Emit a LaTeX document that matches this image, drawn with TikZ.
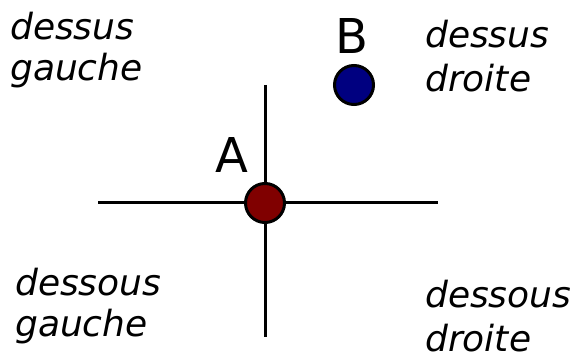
\documentclass[tikz,border=0pt]{standalone}
\usepackage{fontspec}
\setmainfont{DejaVu Sans}
\usepackage{tikz}
\usetikzlibrary{positioning}
\definecolor{pointA}{RGB}{128,0,0}
\definecolor{pointB}{RGB}{0,0,128}
\tikzstyle{axis} = [line width=3pt, draw=black]
\tikzstyle{point} = [circle, minimum size=39pt, inner sep=0pt, line width=3pt, draw=black]
\tikzstyle{zone} = [anchor=north west, inner sep=0pt, align=left, font=\fontsize{36}{41}\selectfont\itshape]
\tikzstyle{zoneR} = [zone, font=\fontsize{36}{44}\selectfont\itshape]
\tikzstyle{letter} = [inner sep=0pt, font=\fontsize{48}{48}\selectfont]

\begin{document}
\begin{tikzpicture}[x=1pt, y=-1pt]
    \useasboundingbox (0,0) rectangle (578,352);
    \coordinate (left) at (98,203);
    \coordinate (right) at (438,203);
    \coordinate (top) at (265,85);
    \coordinate (bottom) at (265,337);

    \draw [axis] (left) -- (right);
    \draw [axis] (top) -- (bottom);

    \node (a) [point, fill=pointA] at (265,203) {};
    \node (b) [point, fill=pointB] at (354,85) {};
    \node (la) [letter] at (232,155) {A};
    \node (lb) [letter] at (352,36) {B};

    \node (tl) [zone] at (10,12) {dessus\\gauche};
    \node (tr) [zoneR] at (425,20) {dessus\\droite};
    \node (bl) [zone] at (15,268) {dessous\\gauche};
    \node (br) [zoneR] at (425,280) {dessous\\droite};
\end{tikzpicture}
\end{document}
